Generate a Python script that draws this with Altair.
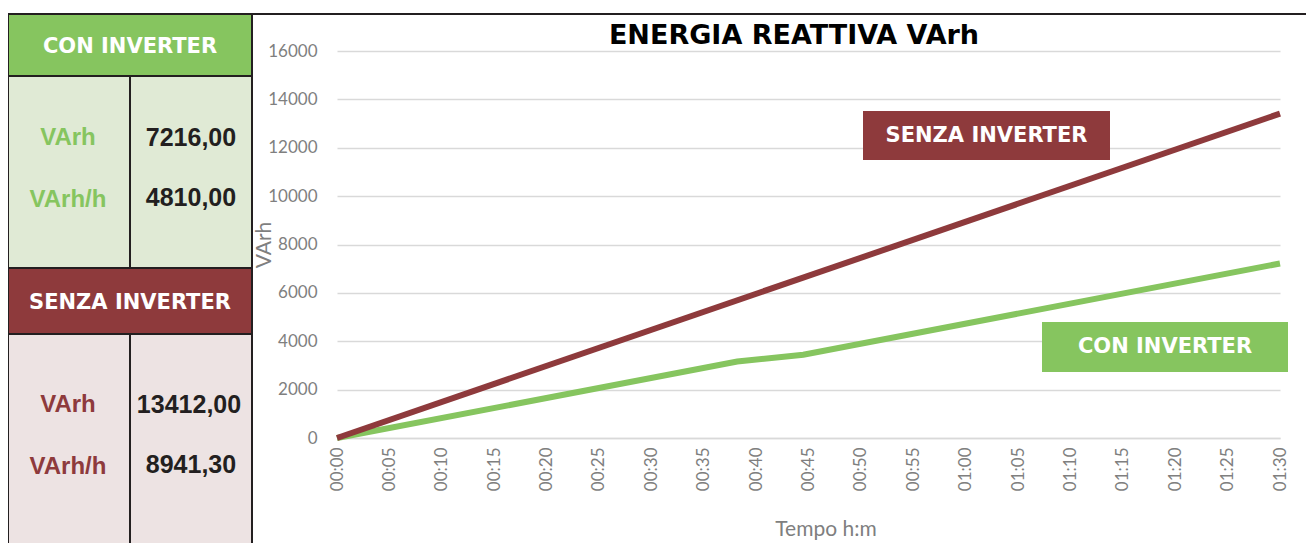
import altair as alt
import pandas as pd

# ---- data ----
minutes_con = [0, 38.2, 44.5, 90]
varh_con = [0, 3160, 3440, 7216]
minutes_senza = [0, 90]
varh_senza = [0, 13412]

tick_minutes = list(range(0, 91, 5))
tick_labels = ["00:00", "00:05", "00:10", "00:15", "00:20", "00:25", "00:30",
               "00:35", "00:40", "00:45", "00:50", "00:55", "01:00", "01:05",
               "01:10", "01:15", "01:20", "01:25", "01:30"]
y_ticks = [0, 2000, 4000, 6000, 8000, 10000, 12000, 14000, 16000]

series_names = ["CON INVERTER", "SENZA INVERTER"]
table_labels = ["VArh", "VArh/h"]
con_values = ["7216,00", "4810,00"]
senza_values = ["13412,00", "8941,30"]
chart_title = "ENERGIA REATTIVA VArh"
x_title = "Tempo h:m"
y_title = "VArh"

GREEN = "#86C55F"
RED = "#8E3A3C"
LIGHT_GREEN = "#E0EAD5"
PINK = "#EDE3E3"
DARK = "#231F20"
GRAY = "#7F7F7F"
HEAD_FONT = "DejaVu Sans"

df = pd.DataFrame(
    {"min": minutes_con + minutes_senza,
     "varh": varh_con + varh_senza,
     "serie": [series_names[0]] * len(minutes_con) + [series_names[1]] * len(minutes_senza)}
)

one = alt.Data(values=[{"k": 1}])

label_expr = "[" + ",".join("'" + t + "'" for t in tick_labels) + "][round(datum.value/5)]"

lines = alt.Chart(df).mark_line(strokeWidth=6, strokeCap="butt").encode(
    x=alt.X("min:Q", scale=alt.Scale(domain=[0, 90], nice=False),
            axis=alt.Axis(values=tick_minutes, labelExpr=label_expr, labelAngle=270,
                          labelAlign="right", labelBaseline="middle", labelPadding=9,
                          ticks=False, domain=True, domainColor="#D9D9D9", domainWidth=1.5,
                          grid=False, labelColor=GRAY, labelFont="Lato", labelFontSize=17,
                          title=None)),
    y=alt.Y("varh:Q", scale=alt.Scale(domain=[0, 16000], nice=False),
            axis=alt.Axis(values=y_ticks, format="d", labelPadding=20, ticks=False, domain=False,
                          grid=True, gridColor="#D9D9D9", gridWidth=1.5,
                          labelColor=GRAY, labelFont="Lato", labelFontSize=17, title=None)),
    color=alt.Color("serie:N", scale=alt.Scale(domain=series_names, range=[GREEN, RED]), legend=None),
    order=alt.Order("min:Q"),
)


def rect(x, x2, y, y2, fill, stroke=None, sw=0):
    kw = {"fill": fill}
    if stroke:
        kw.update(stroke=stroke, strokeWidth=sw)
    return alt.Chart(one).mark_rect(**kw).encode(
        x=alt.value(x), x2=alt.value(x2), y=alt.value(y), y2=alt.value(y2))


def rule(x, x2, y, y2, color=DARK, sw=2):
    return alt.Chart(one).mark_rule(color=color, strokeWidth=sw).encode(
        x=alt.value(x), x2=alt.value(x2), y=alt.value(y), y2=alt.value(y2))


def text(t, x, y, size, color, font="Liberation Sans", weight="bold", angle=0):
    return alt.Chart(one).mark_text(fontSize=size, color=color, font=font, fontWeight=weight,
                                    align="center", baseline="middle", angle=angle).encode(
        x=alt.value(x), y=alt.value(y), text=alt.value(t))


# table (coordinates relative to plot origin at page (337, 51))
L, M, R = -329, -207, -85
layers = [
    rect(L, R, -37, 25, GREEN, DARK, 2),
    rect(L, R, 25, 217, LIGHT_GREEN, DARK, 2),
    rect(L, R, 217, 283, RED, DARK, 2),
    rect(L, R, 283, 510, PINK, DARK, 2),
    rule(M, M, 25, 217),
    rule(M, M, 283, 510),
    rule(L, 980, -37, -37),
    rule(R, R, -37, 510),
    text(series_names[0], M, -4, 21, "white", font=HEAD_FONT),
    text(series_names[1], M, 252, 21, "white", font=HEAD_FONT),
    text(table_labels[0], -269, 87, 24, GREEN),
    text(table_labels[1], -269, 149, 24, GREEN),
    text(con_values[0], -146, 87, 25, DARK),
    text(con_values[1], -146, 147, 25, DARK),
    text(table_labels[0], -269, 354, 24, RED),
    text(table_labels[1], -269, 416, 24, RED),
    text(senza_values[0], -148, 354, 25, DARK),
    text(senza_values[1], -146, 414, 25, DARK),
    lines,
    rect(526, 773, 60, 109, RED),
    text(series_names[1], 649.5, 84.5, 21, "white", font=HEAD_FONT),
    rect(705, 951, 271, 321, GREEN),
    text(series_names[0], 828, 296, 21, "white", font=HEAD_FONT),
    text(chart_title, 457, -15, 27, "black", font=HEAD_FONT),
    text(x_title, 489, 479, 21, GRAY, font="Lato", weight="normal"),
    text(y_title, -72, 194, 21, GRAY, font="Lato", weight="normal", angle=270),
]

chart = alt.layer(*layers).properties(
    width=943, height=387,
    padding={"left": 329, "top": 43, "right": 26, "bottom": 105},
    autosize=alt.AutoSizeParams(type="none"),
).configure_view(stroke=None)

chart.save("out.html", embed_options={"renderer": "svg", "actions": False})
